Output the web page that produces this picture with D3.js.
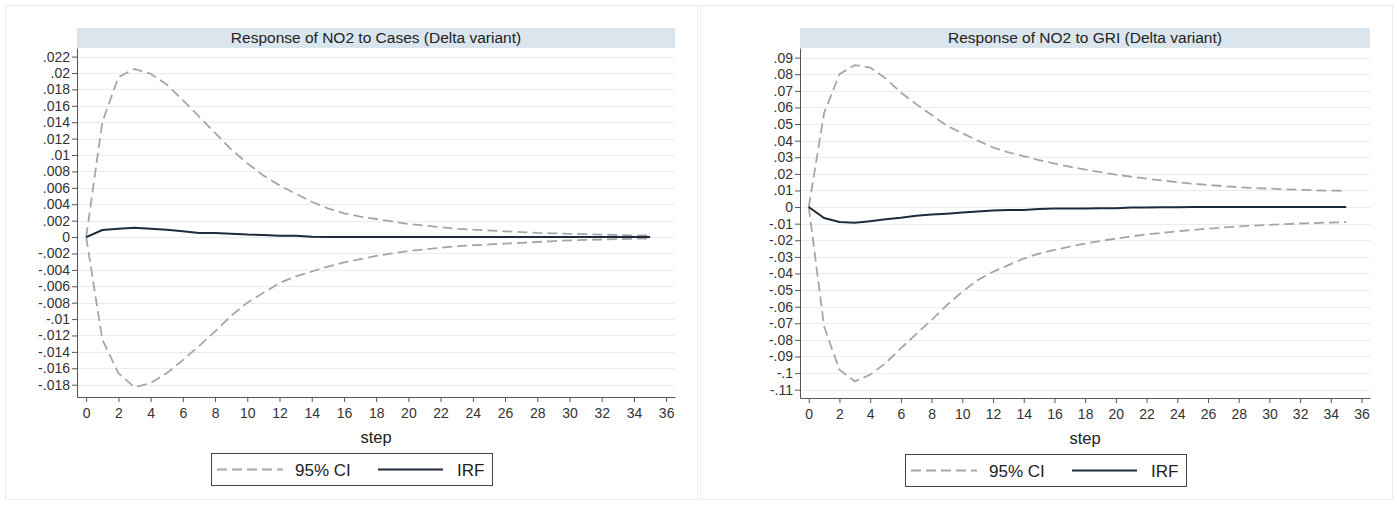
<!DOCTYPE html>
<html>
<head>
<meta charset="utf-8">
<script src="https://cdn.jsdelivr.net/npm/d3@7"></script>
<style>
  body { margin: 0; background: #fff; font-family: "Liberation Sans", Arial, sans-serif; }
  svg { display: block; }
</style>
</head>
<body>
<div id="chart"></div>
<script>
  'use strict';

  var steps = d3.range(0, 36);

  // Response of NO2 to Cases
  var casesIrf = [0, .00085, .001, .00112, .001, .0009, .0007, .0005, .0005, .0004,
    .0003, .00025, .00015, .00015, .00005, 0, 0, 0, 0, 0,
    0, 0, 0, 0, 0, 0, 0, 0, 0, 0,
    0, 0, 0, 0, 0, 0];
  var casesUpper = [0, .0140, .0195, .0205, .0199, .0186, .0167, .0147, .0127, .0107,
    .0090, .0075, .0063, .0053, .0043, .0035, .0029, .0025, .0022, .0019,
    .0016, .0014, .0012, .0010, .0009, .0008, .0007, .0006, .0005, .00045,
    .0004, .00035, .0003, .00025, .0002, .0002];
  var casesLower = [0, -.0125, -.0166, -.0183, -.0178, -.0166, -.0150, -.0133, -.0115, -.0096,
    -.0080, -.0068, -.0056, -.0048, -.0042, -.0036, -.0031, -.0027, -.0023, -.0020,
    -.0017, -.0015, -.0013, -.0011, -.0010, -.0009, -.0008, -.0007, -.0006, -.0005,
    -.0004, -.00035, -.0003, -.00025, -.0002, -.0002];
  var casesTicks = [.022, .02, .018, .016, .014, .012, .01, .008, .006, .004, .002, 0,
    -.002, -.004, -.006, -.008, -.01, -.012, -.014, -.016, -.018];

  // Response of NO2 to GRI
  var griIrf = [0, -.0066, -.0090, -.0095, -.0085, -.0073, -.0065, -.0052, -.0045, -.0040,
    -.0033, -.0027, -.0020, -.0018, -.0017, -.0011, -.0009, -.0008, -.0008, -.0007,
    -.0007, -.0002, -.0002, -.0001, -.0001, 0, 0, 0, 0, 0,
    0, 0, 0, 0, 0, 0];
  var griUpper = [0, .0566, .0800, .0855, .0840, .0775, .0690, .0620, .0555, .0490,
    .0445, .0400, .0360, .0330, .0307, .0282, .0262, .0243, .0226, .0210,
    .0195, .0183, .0171, .0160, .0150, .0141, .0133, .0126, .0120, .0115,
    .0111, .0107, .0104, .0101, .0099, .0098];
  var griLower = [0, -.0720, -.0980, -.1050, -.1010, -.0940, -.0850, -.0765, -.0680, -.0590,
    -.0510, -.0440, -.0390, -.0350, -.0310, -.0280, -.0258, -.0238, -.0220, -.0204,
    -.0190, -.0177, -.0165, -.0155, -.0146, -.0138, -.0130, -.0123, -.0117, -.0112,
    -.0107, -.0103, -.0099, -.0096, -.0093, -.0091];
  var griTicks = [.09, .08, .07, .06, .05, .04, .03, .02, .01, 0,
    -.01, -.02, -.03, -.04, -.05, -.06, -.07, -.08, -.09, -.1, -.11];

  var xTicks = d3.range(0, 37, 2);

  var panels = [
    { title: 'Response of NO2 to Cases (Delta variant)', irf: casesIrf, upper: casesUpper, lower: casesLower,
      ticks: casesTicks, yDomain: [-.0195, .02305],
      card: [5, 5, 692, 494], plot: [77, 48, 675, 397], legend: [211, 453, 281, 32] },
    { title: 'Response of NO2 to GRI (Delta variant)', irf: griIrf, upper: griUpper, lower: griLower,
      ticks: griTicks, yDomain: [-.115, .0958],
      card: [700, 5, 692, 494], plot: [800, 48, 1370, 398], legend: [905, 454, 281, 32] }
  ];

  var svg = d3.select('#chart').append('svg')
    .attr('width', 1397)
    .attr('height', 506);

  function fmt(v) {
    if (v === 0) return '0';
    var s = String(+v.toFixed(4));
    return s.replace('0.', '.');
  }

  panels.forEach(draw_panel);

  function draw_panel(p) {
    var left = p.plot[0], top = p.plot[1], right = p.plot[2], bottom = p.plot[3];

    svg.append('rect')
      .attr('x', p.card[0] + 0.5).attr('y', p.card[1] + 0.5)
      .attr('width', p.card[2]).attr('height', p.card[3])
      .attr('fill', '#fff').attr('stroke', '#ececec');

    // title bar
    svg.append('rect')
      .attr('x', left).attr('y', top - 20)
      .attr('width', right - left).attr('height', 20)
      .attr('fill', '#dae5ed');
    svg.append('text')
      .attr('x', (left + right) / 2).attr('y', top - 5)
      .attr('text-anchor', 'middle')
      .attr('font-size', 15.5).attr('fill', '#222')
      .text(p.title);

    var x = d3.scaleLinear().domain([-0.57, 36.55]).range([left, right]);
    var y = d3.scaleLinear().domain(p.yDomain).range([bottom, top]);

    // grid
    svg.append('g').selectAll('line')
      .data(p.ticks)
      .enter()
      .append('line')
      .attr('x1', left).attr('x2', right)
      .attr('y1', function(d) { return Math.round(y(d)) + 0.5; })
      .attr('y2', function(d) { return Math.round(y(d)) + 0.5; })
      .attr('stroke', '#e8ecef');

    var yAxis = svg.append('g')
      .attr('transform', 'translate(' + left + ',0)')
      .call(d3.axisLeft(y).tickValues(p.ticks).tickFormat(fmt).tickSize(5).tickPadding(2).tickSizeOuter(0));
    var xAxis = svg.append('g')
      .attr('transform', 'translate(0,' + bottom + ')')
      .call(d3.axisBottom(x).tickValues(xTicks).tickFormat(d3.format('d')).tickSize(5).tickSizeOuter(0));

    [yAxis, xAxis].forEach(function(a) {
      a.select('.domain').attr('stroke', '#555');
      a.selectAll('.tick line').attr('stroke', '#555');
      a.selectAll('.tick text').attr('fill', '#333').attr('font-size', 14)
        .attr('font-family', '"Liberation Sans", Arial, sans-serif');
    });
    xAxis.selectAll('.tick text').attr('dy', '0.95em');

    svg.append('text')
      .attr('x', (left + right) / 2).attr('y', bottom + 46)
      .attr('text-anchor', 'middle')
      .attr('font-size', 16.5).attr('fill', '#222')
      .text('step');

    var line = function(vals) {
      return d3.line()
        .x(function(d, i) { return x(steps[i]); })
        .y(function(d) { return y(d); })(vals);
    };

    [p.upper, p.lower].forEach(function(vals) {
      svg.append('path')
        .attr('d', line(vals))
        .attr('fill', 'none')
        .attr('stroke', '#a6a6a6')
        .attr('stroke-width', 1.8)
        .attr('stroke-dasharray', '10,5');
    });

    svg.append('path')
      .attr('d', line(p.irf))
      .attr('fill', 'none')
      .attr('stroke', '#1e2b3c')
      .attr('stroke-width', 2);

    // legend
    var lg = p.legend;
    var g = svg.append('g').attr('transform', 'translate(' + lg[0] + ',' + lg[1] + ')');
    g.append('rect')
      .attr('x', 0.5).attr('y', 0.5)
      .attr('width', lg[2]).attr('height', lg[3])
      .attr('fill', '#fff').attr('stroke', '#444');
    g.append('line')
      .attr('x1', 6).attr('x2', 72).attr('y1', 16.5).attr('y2', 16.5)
      .attr('stroke', '#a6a6a6').attr('stroke-width', 1.8).attr('stroke-dasharray', '10,5');
    g.append('text')
      .attr('x', 84).attr('y', 22.5)
      .attr('font-size', 17).attr('fill', '#222')
      .text('95% CI');
    g.append('line')
      .attr('x1', 167).attr('x2', 232).attr('y1', 16.5).attr('y2', 16.5)
      .attr('stroke', '#1e2b3c').attr('stroke-width', 2);
    g.append('text')
      .attr('x', 246).attr('y', 22.5)
      .attr('font-size', 17).attr('fill', '#222')
      .text('IRF');
  }
</script>
</body>
</html>
